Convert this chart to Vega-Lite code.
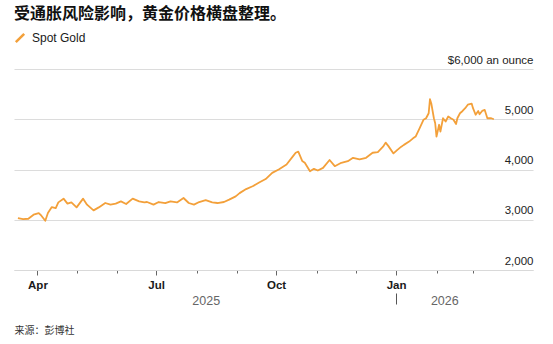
{
  "$schema": "https://vega.github.io/schema/vega-lite/v6.json",
  "width": 519,
  "height": 201,
  "autosize": {"type": "none"},
  "padding": {"left": 14, "top": 69, "right": 20, "bottom": 74},
  "background": "white",
  "title": {
    "text": "受通胀风险影响，黄金价格横盘整理。",
    "anchor": "start",
    "frame": "group",
    "font": "Noto Sans CJK SC",
    "fontSize": 16,
    "fontWeight": "bold",
    "color": "#111111",
    "offset": 10
  },
  "config": {
    "view": {"stroke": null},
    "font": "Liberation Sans"
  },
  "data": {
    "values": [
      {"date": "2025-03-17", "price": 3034, "series": "Spot Gold"},
      {"date": "2025-03-21", "price": 3014, "series": "Spot Gold"},
      {"date": "2025-03-25", "price": 3020, "series": "Spot Gold"},
      {"date": "2025-03-29", "price": 3100, "series": "Spot Gold"},
      {"date": "2025-04-02", "price": 3133, "series": "Spot Gold"},
      {"date": "2025-04-04", "price": 3080, "series": "Spot Gold"},
      {"date": "2025-04-07", "price": 2980, "series": "Spot Gold"},
      {"date": "2025-04-09", "price": 3133, "series": "Spot Gold"},
      {"date": "2025-04-12", "price": 3253, "series": "Spot Gold"},
      {"date": "2025-04-15", "price": 3233, "series": "Spot Gold"},
      {"date": "2025-04-17", "price": 3346, "series": "Spot Gold"},
      {"date": "2025-04-21", "price": 3420, "series": "Spot Gold"},
      {"date": "2025-04-24", "price": 3320, "series": "Spot Gold"},
      {"date": "2025-04-27", "price": 3346, "series": "Spot Gold"},
      {"date": "2025-05-01", "price": 3246, "series": "Spot Gold"},
      {"date": "2025-05-06", "price": 3420, "series": "Spot Gold"},
      {"date": "2025-05-09", "price": 3300, "series": "Spot Gold"},
      {"date": "2025-05-14", "price": 3186, "series": "Spot Gold"},
      {"date": "2025-05-18", "price": 3246, "series": "Spot Gold"},
      {"date": "2025-05-23", "price": 3333, "series": "Spot Gold"},
      {"date": "2025-05-27", "price": 3300, "series": "Spot Gold"},
      {"date": "2025-05-31", "price": 3320, "series": "Spot Gold"},
      {"date": "2025-06-04", "price": 3366, "series": "Spot Gold"},
      {"date": "2025-06-08", "price": 3313, "series": "Spot Gold"},
      {"date": "2025-06-13", "price": 3420, "series": "Spot Gold"},
      {"date": "2025-06-18", "price": 3366, "series": "Spot Gold"},
      {"date": "2025-06-22", "price": 3346, "series": "Spot Gold"},
      {"date": "2025-06-24", "price": 3353, "series": "Spot Gold"},
      {"date": "2025-06-29", "price": 3300, "series": "Spot Gold"},
      {"date": "2025-07-03", "price": 3353, "series": "Spot Gold"},
      {"date": "2025-07-08", "price": 3330, "series": "Spot Gold"},
      {"date": "2025-07-12", "price": 3366, "series": "Spot Gold"},
      {"date": "2025-07-17", "price": 3345, "series": "Spot Gold"},
      {"date": "2025-07-22", "price": 3433, "series": "Spot Gold"},
      {"date": "2025-07-26", "price": 3333, "series": "Spot Gold"},
      {"date": "2025-07-30", "price": 3300, "series": "Spot Gold"},
      {"date": "2025-08-03", "price": 3353, "series": "Spot Gold"},
      {"date": "2025-08-08", "price": 3390, "series": "Spot Gold"},
      {"date": "2025-08-13", "price": 3345, "series": "Spot Gold"},
      {"date": "2025-08-17", "price": 3333, "series": "Spot Gold"},
      {"date": "2025-08-22", "price": 3353, "series": "Spot Gold"},
      {"date": "2025-08-26", "price": 3400, "series": "Spot Gold"},
      {"date": "2025-08-31", "price": 3466, "series": "Spot Gold"},
      {"date": "2025-09-03", "price": 3530, "series": "Spot Gold"},
      {"date": "2025-09-08", "price": 3610, "series": "Spot Gold"},
      {"date": "2025-09-13", "price": 3666, "series": "Spot Gold"},
      {"date": "2025-09-18", "price": 3740, "series": "Spot Gold"},
      {"date": "2025-09-23", "price": 3810, "series": "Spot Gold"},
      {"date": "2025-09-28", "price": 3933, "series": "Spot Gold"},
      {"date": "2025-10-03", "price": 4000, "series": "Spot Gold"},
      {"date": "2025-10-09", "price": 4100, "series": "Spot Gold"},
      {"date": "2025-10-14", "price": 4266, "series": "Spot Gold"},
      {"date": "2025-10-16", "price": 4333, "series": "Spot Gold"},
      {"date": "2025-10-18", "price": 4355, "series": "Spot Gold"},
      {"date": "2025-10-21", "price": 4170, "series": "Spot Gold"},
      {"date": "2025-10-23", "price": 4133, "series": "Spot Gold"},
      {"date": "2025-10-27", "price": 3966, "series": "Spot Gold"},
      {"date": "2025-10-30", "price": 4013, "series": "Spot Gold"},
      {"date": "2025-11-02", "price": 3980, "series": "Spot Gold"},
      {"date": "2025-11-06", "price": 4033, "series": "Spot Gold"},
      {"date": "2025-11-11", "price": 4190, "series": "Spot Gold"},
      {"date": "2025-11-15", "price": 4066, "series": "Spot Gold"},
      {"date": "2025-11-20", "price": 4133, "series": "Spot Gold"},
      {"date": "2025-11-25", "price": 4166, "series": "Spot Gold"},
      {"date": "2025-11-29", "price": 4233, "series": "Spot Gold"},
      {"date": "2025-12-04", "price": 4200, "series": "Spot Gold"},
      {"date": "2025-12-09", "price": 4233, "series": "Spot Gold"},
      {"date": "2025-12-14", "price": 4333, "series": "Spot Gold"},
      {"date": "2025-12-18", "price": 4346, "series": "Spot Gold"},
      {"date": "2025-12-22", "price": 4453, "series": "Spot Gold"},
      {"date": "2025-12-24", "price": 4535, "series": "Spot Gold"},
      {"date": "2025-12-26", "price": 4470, "series": "Spot Gold"},
      {"date": "2025-12-30", "price": 4320, "series": "Spot Gold"},
      {"date": "2026-01-02", "price": 4390, "series": "Spot Gold"},
      {"date": "2026-01-05", "price": 4455, "series": "Spot Gold"},
      {"date": "2026-01-07", "price": 4490, "series": "Spot Gold"},
      {"date": "2026-01-11", "price": 4555, "series": "Spot Gold"},
      {"date": "2026-01-14", "price": 4620, "series": "Spot Gold"},
      {"date": "2026-01-16", "price": 4655, "series": "Spot Gold"},
      {"date": "2026-01-19", "price": 4820, "series": "Spot Gold"},
      {"date": "2026-01-22", "price": 4990, "series": "Spot Gold"},
      {"date": "2026-01-24", "price": 5020, "series": "Spot Gold"},
      {"date": "2026-01-26", "price": 5120, "series": "Spot Gold"},
      {"date": "2026-01-27", "price": 5400, "series": "Spot Gold"},
      {"date": "2026-01-28", "price": 5315, "series": "Spot Gold"},
      {"date": "2026-01-30", "price": 5020, "series": "Spot Gold"},
      {"date": "2026-01-31", "price": 4920, "series": "Spot Gold"},
      {"date": "2026-02-01", "price": 4655, "series": "Spot Gold"},
      {"date": "2026-02-03", "price": 4890, "series": "Spot Gold"},
      {"date": "2026-02-04", "price": 4755, "series": "Spot Gold"},
      {"date": "2026-02-06", "price": 5020, "series": "Spot Gold"},
      {"date": "2026-02-08", "price": 4955, "series": "Spot Gold"},
      {"date": "2026-02-10", "price": 5055, "series": "Spot Gold"},
      {"date": "2026-02-12", "price": 5020, "series": "Spot Gold"},
      {"date": "2026-02-14", "price": 4990, "series": "Spot Gold"},
      {"date": "2026-02-16", "price": 4905, "series": "Spot Gold"},
      {"date": "2026-02-17", "price": 5020, "series": "Spot Gold"},
      {"date": "2026-02-19", "price": 5120, "series": "Spot Gold"},
      {"date": "2026-02-21", "price": 5165, "series": "Spot Gold"},
      {"date": "2026-02-23", "price": 5220, "series": "Spot Gold"},
      {"date": "2026-02-25", "price": 5290, "series": "Spot Gold"},
      {"date": "2026-02-28", "price": 5310, "series": "Spot Gold"},
      {"date": "2026-03-01", "price": 5220, "series": "Spot Gold"},
      {"date": "2026-03-03", "price": 5090, "series": "Spot Gold"},
      {"date": "2026-03-05", "price": 5165, "series": "Spot Gold"},
      {"date": "2026-03-06", "price": 5100, "series": "Spot Gold"},
      {"date": "2026-03-08", "price": 5165, "series": "Spot Gold"},
      {"date": "2026-03-10", "price": 5185, "series": "Spot Gold"},
      {"date": "2026-03-12", "price": 5020, "series": "Spot Gold"},
      {"date": "2026-03-15", "price": 5020, "series": "Spot Gold"},
      {"date": "2026-03-17", "price": 5000, "series": "Spot Gold"}
    ]
  },
  "layer": [
    {
      "mark": {"type": "line", "strokeWidth": 1.8, "strokeJoin": "round"},
      "encoding": {
        "x": {
          "field": "date",
          "type": "temporal",
          "scale": {
            "type": "utc",
            "domain": [
              {"year": 2025, "month": 3, "date": 14, "utc": true},
              {"year": 2026, "month": 4, "date": 16, "utc": true}
            ]
          },
          "axis": {
            "title": null,
            "values": [
              {"year": 2025, "month": 4, "date": 1, "utc": true},
              {"year": 2025, "month": 5, "date": 1, "utc": true},
              {"year": 2025, "month": 6, "date": 1, "utc": true},
              {"year": 2025, "month": 7, "date": 1, "utc": true},
              {"year": 2025, "month": 8, "date": 1, "utc": true},
              {"year": 2025, "month": 9, "date": 1, "utc": true},
              {"year": 2025, "month": 10, "date": 1, "utc": true},
              {"year": 2025, "month": 11, "date": 1, "utc": true},
              {"year": 2025, "month": 12, "date": 1, "utc": true},
              {"year": 2026, "month": 1, "date": 1, "utc": true},
              {"year": 2026, "month": 2, "date": 1, "utc": true},
              {"year": 2026, "month": 3, "date": 1, "utc": true}
            ],
            "labelExpr": "indexof([0,3,6,9], utcmonth(datum.value)) >= 0 ? utcFormat(datum.value, '%b') : ''",
            "domainColor": "#d9d9d9",
            "domainWidth": 1.2,
            "tickColor": "#666666",
            "tickSize": {"condition": {"test": "indexof([0,3,6,9], utcmonth(datum.value)) >= 0", "value": 5}, "value": 3},
            "labelFontSize": 11.5,
            "labelFontWeight": 600,
            "labelColor": "#1a1a1a",
            "labelPadding": 4,
            "labelFlush": false,
            "labelOverlap": false,
            "grid": false
          }
        },
        "y": {
          "field": "price",
          "type": "quantitative",
          "scale": {"domain": [2000, 6000], "nice": false, "zero": false},
          "axis": {
            "orient": "right",
            "title": null,
            "values": [2000, 3000, 4000, 5000, 6000],
            "labelExpr": "datum.value == 6000 ? '$6,000 an ounce' : format(datum.value, ',')",
            "domain": false,
            "ticks": false,
            "tickSize": 0,
            "grid": true,
            "gridColor": "#dcdcdc",
            "gridWidth": 1.2,
            "labelAlign": "right",
            "labelBaseline": "bottom",
            "labelPadding": 0,
            "labelOffset": -4,
            "labelFontSize": 11.5,
            "labelColor": "#222222"
          }
        },
        "color": {
          "field": "series",
          "type": "nominal",
          "scale": {"range": ["#F3A03A"]},
          "legend": {
            "title": null,
            "orient": "none",
            "legendX": 0,
            "legendY": -37,
            "symbolType": "M-1,1L1,-1",
            "symbolSize": 70,
            "symbolStrokeWidth": 2.5,
            "symbolStrokeColor": "#F3A03A",
            "labelFontSize": 12,
            "labelColor": "#1a1a1a",
            "labelOffset": 6,
            "padding": 0
          }
        }
      }
    },
    {
      "mark": {"type": "line", "opacity": 0},
      "encoding": {
        "x": {
          "field": "date",
          "type": "temporal",
          "axis": {
            "orient": "bottom",
            "offset": 23,
            "domain": false,
            "grid": false,
            "values": [
              {"year": 2025, "month": 8, "date": 8, "utc": true},
              {"year": 2026, "month": 1, "date": 1, "utc": true},
              {"year": 2026, "month": 2, "date": 7, "utc": true}
            ],
            "labelExpr": "(utcmonth(datum.value) == 0 && utcdate(datum.value) == 1) ? '' : utcFormat(datum.value, '%Y')",
            "tickSize": 11,
            "tickColor": "#555555",
            "tickOpacity": {"condition": {"test": "utcmonth(datum.value) == 0 && utcdate(datum.value) == 1", "value": 1}, "value": 0},
            "labelPadding": -10,
            "labelFontSize": 12.5,
            "labelColor": "#666666",
            "labelFlush": false,
            "labelOverlap": false,
            "title": "来源：彭博社",
            "titleFont": "Noto Sans CJK SC",
            "titleFontSize": 10,
            "titleFontWeight": "normal",
            "titleColor": "#333333",
            "titleAnchor": "start",
            "titleAlign": "left",
            "titleBaseline": "alphabetic",
            "titleX": 0,
            "titleY": 40
          }
        },
        "y": {"field": "price", "type": "quantitative", "axis": null}
      }
    }
  ],
  "resolve": {"axis": {"x": "independent", "y": "independent"}}
}
